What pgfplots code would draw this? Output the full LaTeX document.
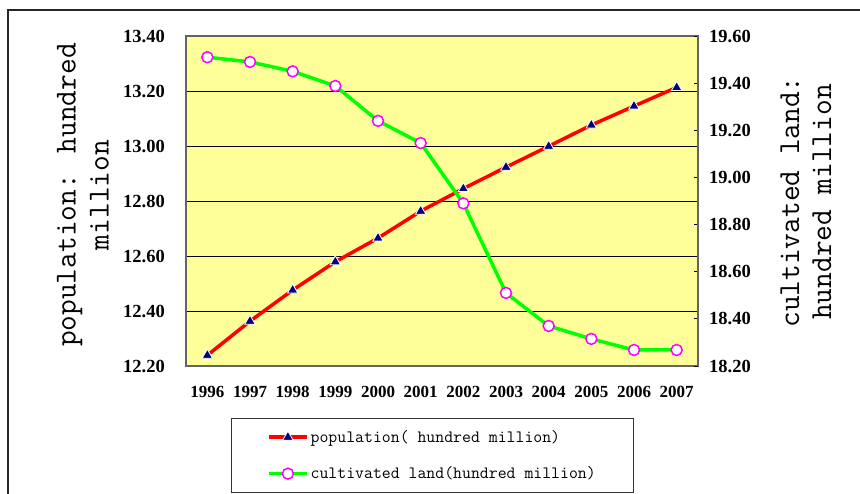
\documentclass[border=0pt]{standalone}
\usepackage{fontspec}
\setmainfont{Liberation Serif}
\usepackage{pgfplots}
\pgfplotsset{compat=1.18}
\definecolor{plotbg}{RGB}{255,255,153}
\definecolor{navy}{RGB}{0,0,128}
\definecolor{pgreen}{RGB}{0,255,0}
\definecolor{pmag}{RGB}{255,0,255}
\definecolor{framegray}{RGB}{100,100,100}
\pgfplotsset{
  mybase/.style={
    scale only axis, width=512pt, height=330pt,
    at={(186pt,-366pt)}, anchor=south west,
    xmin=-0.5, xmax=11.5,
    /pgf/number format/assume math mode=true,
    /pgf/number format/fixed,
    /pgf/number format/fixed zerofill,
    /pgf/number format/precision=2,
    axis line style={framegray, line width=1.5pt},
  }
}
\begin{document}
\begin{tikzpicture}[x=1pt,y=1pt]
\useasboundingbox (0,0) rectangle (860,-494);
\draw[line width=1.3pt, black!85] (8,-500) -- (8,-10) -- (870,-10);
\begin{axis}[mybase,
  ymin=12.2, ymax=13.4,
  ytick={12.2,12.4,12.6,12.8,13.0,13.2,13.4},
  axis background/.style={fill=plotbg},
  ymajorgrids, grid style={black, line width=0.8pt},
  ytick style={draw=none},
  yticklabel style={font=\bfseries\fontsize{18.5}{18.5}\selectfont, inner sep=0pt},
  yticklabel shift=21pt,
  xtick={0,1,2,3,4,5,6,7,8,9,10,11},
  xticklabels={1996,1997,1998,1999,2000,2001,2002,2003,2004,2005,2006,2007},
  xtick style={draw=none},
  xticklabel style={font=\bfseries\fontsize{17}{17}\selectfont, inner sep=0pt, anchor=north},
  xticklabel shift=20pt,
  extra x ticks={0.5,1.5,2.5,3.5,4.5,5.5,6.5,7.5,8.5,9.5,10.5},
  extra x tick labels={},
  extra x tick style={tick align=inside, major tick length=5pt, tick style={draw=black, line width=0.8pt}, grid=none},
  ylabel={population: hundred\\million},
  ylabel style={at={(axis description cs:-0.2012,0.518)}, anchor=center, align=center,
    font=\ttfamily\fontsize{30.5}{33}\selectfont},
]
\addplot[red, line width=3.5pt, mark=triangle*, mark size=6pt,
  mark options={fill=navy, draw=white, line width=0.8pt}]
  coordinates {(0,12.239) (1,12.363) (2,12.476) (3,12.579) (4,12.665) (5,12.763)
  (6,12.845) (7,12.923) (8,12.999) (9,13.076) (10,13.145) (11,13.213)};
\end{axis}
\begin{axis}[mybase,
  ymin=18.2, ymax=19.6,
  axis y line*=right, axis x line=none,
  ytick={18.2,18.4,18.6,18.8,19.0,19.2,19.4,19.6},
  tick align=inside, major tick length=4pt,
  ytick style={draw=black, line width=0.8pt},
  yticklabel style={font=\bfseries\fontsize{18.5}{18.5}\selectfont, inner sep=0pt, anchor=west},
  yticklabel shift=11pt,
  ylabel={cultivated land:\\hundred million},
  ylabel style={at={(axis description cs:1.2109,0.497)}, anchor=center, align=center,
    font=\ttfamily\fontsize{30.5}{32}\selectfont},
  legend style={at={(0.4814,-0.1576)}, anchor=north, draw=black!80, line width=0.8pt,
    fill=white, font=\ttfamily\fontsize{17.3}{17.3}\selectfont,
    inner xsep=36pt, inner ysep=10pt, row sep=19pt},
  legend cell align=left,
  legend image code/.code={\draw[#1, mark repeat=2, mark phase=2] plot coordinates {(0pt,0pt) (19pt,0pt) (38pt,0pt)};},
]
\addlegendimage{red, line width=3.5pt, mark=triangle*, mark size=6pt,
  mark options={fill=navy, draw=white, line width=0.8pt}}
\addlegendentry{population( hundred million)}
\addplot[pgreen, line width=3.5pt, mark=*, mark size=5.5pt,
  mark options={fill=white, draw=pmag, line width=1.5pt}]
  coordinates {(0,19.51) (1,19.49) (2,19.45) (3,19.388) (4,19.24) (5,19.146)
  (6,18.89) (7,18.51) (8,18.37) (9,18.315) (10,18.268) (11,18.268)};
\addlegendentry{cultivated land(hundred million)}
\end{axis}
\end{tikzpicture}
\end{document}
